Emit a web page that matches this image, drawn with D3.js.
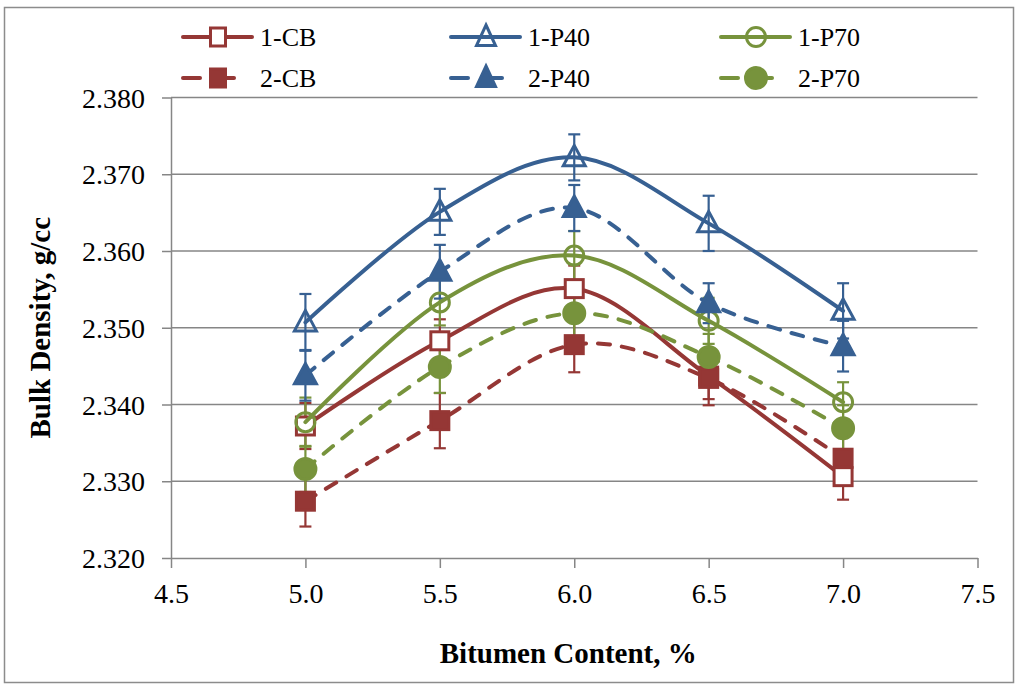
<!DOCTYPE html>
<html>
<head>
<meta charset="utf-8">
<script src="https://cdn.jsdelivr.net/npm/d3@7"></script>
<style>
  body { margin: 0; background: #fff; }
  text { font-family: "Liberation Serif", "Times New Roman", serif; fill: #000; }
</style>
</head>
<body>
<div id="chart"></div>
<script>
// bitumen content vs bulk density, 6 series with error bars
var bitumen = [5.0, 5.5, 6.0, 6.5, 7.0];
var xTicks = [4.5, 5.0, 5.5, 6.0, 6.5, 7.0, 7.5];
var yTicks = [2.320, 2.330, 2.340, 2.350, 2.360, 2.370, 2.380];

var cb1 = [2.3372, 2.3483, 2.3551, 2.3437, 2.3306];
var cb2 = [2.3274, 2.3379, 2.3478, 2.3434, 2.3330];
var p40_1 = [2.3507, 2.3651, 2.3722, 2.3636, 2.3522];
var p40_2 = [2.3438, 2.3573, 2.3656, 2.3532, 2.3476];
var p70_1 = [2.3377, 2.3533, 2.3594, 2.3509, 2.3403];
var p70_2 = [2.3316, 2.3449, 2.3519, 2.3462, 2.3369];

// error bar half widths
var cb1Err = [0.0030, 0.0028, 0.0030, 0.0030, 0.0030];
var cb2Err = [0.0033, 0.0036, 0.0036, 0.0035, 0.0030];
var p40_1Err = [0.0037, 0.0030, 0.0030, 0.0036, 0.0036];
var p40_2Err = [0.0033, 0.0035, 0.0030, 0.0026, 0.0033];
var p70_1Err = [0.0032, 0.0030, 0.0032, 0.0030, 0.0026];
var p70_2Err = [0.0030, 0.0034, 0.0032, 0.0030, 0.0030];

var red = "#953735", blue = "#376092", green = "#77933c";

var series = [
  {name: "1-CB", vals: cb1, err: cb1Err, color: red, dash: false, marker: "square", fill: false},
  {name: "1-P40", vals: p40_1, err: p40_1Err, color: blue, dash: false, marker: "triangle", fill: false},
  {name: "1-P70", vals: p70_1, err: p70_1Err, color: green, dash: false, marker: "circle", fill: false},
  {name: "2-CB", vals: cb2, err: cb2Err, color: red, dash: true, marker: "square", fill: true},
  {name: "2-P40", vals: p40_2, err: p40_2Err, color: blue, dash: true, marker: "triangle", fill: true},
  {name: "2-P70", vals: p70_2, err: p70_2Err, color: green, dash: true, marker: "circle", fill: true}
];

var svgWidth = 1017, svgHeight = 684;
var margin = {top: 97.5, right: 40, bottom: 126, left: 171};
var width = 977.5 - margin.left;
var height = 558 - margin.top;

var svg = d3.select("#chart").append("svg")
  .attr("width", svgWidth)
  .attr("height", svgHeight);

// outer frame
svg.append("rect")
  .attr("x", 4.5).attr("y", 7.5)
  .attr("width", 1009).attr("height", 675)
  .attr("fill", "none").attr("stroke", "#8c8c8c").attr("stroke-width", 1.5);

var g = svg.append("g").attr("transform", `translate(${margin.left}, ${margin.top})`);

var x = d3.scaleLinear().domain([4.5, 7.5]).range([0, width]);
var y = d3.scaleLinear().domain([2.320, 2.380]).range([height, 0]);

// gridlines
g.selectAll(".grid").data(yTicks.slice(1)).enter().append("line")
  .attr("x1", 0).attr("x2", width)
  .attr("y1", d => y(d)).attr("y2", d => y(d))
  .attr("stroke", "#868686").attr("stroke-width", 1.5);

var xAxis = g.append("g").attr("transform", `translate(0, ${height})`)
  .call(d3.axisBottom(x).tickValues(xTicks).tickFormat(d3.format(".1f")).tickSize(10).tickSizeOuter(0));
var yAxis = g.append("g")
  .call(d3.axisLeft(y).tickValues(yTicks).tickFormat(d3.format(".3f")).tickSize(9).tickSizeOuter(0));

[xAxis, yAxis].forEach(function(a) {
  a.select(".domain").attr("stroke", "#868686").attr("stroke-width", 1.5);
  a.selectAll(".tick line").attr("stroke", "#868686").attr("stroke-width", 1.5);
  a.selectAll("text").attr("font-family", "Liberation Serif").attr("font-size", 28).attr("fill", "#000");
});
xAxis.selectAll("text").attr("dy", 0).attr("y", 45);
yAxis.selectAll("text").attr("x", -26).attr("dy", "0.34em");

var line = d3.line()
  .x((d, i) => x(bitumen[i]))
  .y(d => y(d))
  .curve(d3.curveCatmullRom.alpha(0));

function drawMarker(sel, s, cx, cy, w) {
  var fill = s.fill ? s.color : "#fff";
  var hw = w || 9;
  if (s.marker === "square") {
    sel.append("rect").attr("x", cx - hw).attr("y", cy - 9).attr("width", hw * 2).attr("height", 18)
      .attr("fill", fill).attr("stroke", s.color).attr("stroke-width", 3);
  } else if (s.marker === "circle") {
    sel.append("circle").attr("cx", cx).attr("cy", cy).attr("r", s.fill ? 10.5 : 9.5)
      .attr("fill", s.fill ? fill : "none").attr("stroke", s.color).attr("stroke-width", 3);
  } else {
    sel.append("path")
      .attr("d", `M${cx},${cy - 12}L${cx + hw + 2},${cy + 8.5}L${cx - hw - 2},${cy + 8.5}Z`)
      .attr("fill", s.fill ? fill : "none").attr("stroke", s.color).attr("stroke-width", 3)
      .attr("stroke-linejoin", "miter");
  }
}

// error bars
series.forEach(function(s) {
  var eb = g.append("g");
  s.vals.forEach(function(v, i) {
    var cx = x(bitumen[i]);
    var top = y(v + s.err[i]), bot = y(v - s.err[i]);
    eb.append("line").attr("x1", cx).attr("x2", cx).attr("y1", top).attr("y2", bot)
      .attr("stroke", s.color).attr("stroke-width", 2.2);
    [top, bot].forEach(function(cy) {
      eb.append("line").attr("x1", cx - 6).attr("x2", cx + 6).attr("y1", cy).attr("y2", cy)
        .attr("stroke", s.color).attr("stroke-width", 2.2);
    });
  });
});

// lines and markers
series.forEach(function(s) {
  g.append("path").datum(s.vals)
    .attr("d", line)
    .attr("fill", "none")
    .attr("stroke", s.color)
    .attr("stroke-width", 4)
    .attr("stroke-linecap", "round")
    .attr("stroke-dasharray", s.dash ? "12,12" : null);
  var mg = g.append("g");
  s.vals.forEach(function(v, i) {
    drawMarker(mg, s, x(bitumen[i]), y(v));
  });
});

// legend
var legX = [183, 451, 721];
var legY = [37, 78];
series.forEach(function(s, i) {
  var col = i % 3, row = Math.floor(i / 3);
  var lg = svg.append("g");
  var x0 = legX[col], cy = legY[row];
  if (s.dash) {
    lg.append("line").attr("x1", x0).attr("x2", x0 + 17).attr("y1", cy).attr("y2", cy)
      .attr("stroke", s.color).attr("stroke-width", 4).attr("stroke-linecap", "round");
    lg.append("line").attr("x1", x0 + 35).attr("x2", x0 + 51).attr("y1", cy).attr("y2", cy)
      .attr("stroke", s.color).attr("stroke-width", 4).attr("stroke-linecap", "round");
  } else {
    lg.append("line").attr("x1", x0).attr("x2", x0 + 69).attr("y1", cy).attr("y2", cy)
      .attr("stroke", s.color).attr("stroke-width", 4).attr("stroke-linecap", "round");
  }
  drawMarker(lg, s, x0 + 35, cy, 7.5);
  lg.append("text").attr("x", x0 + 77).attr("y", cy + 9)
    .attr("font-size", 26).text(s.name);
});

// axis titles
svg.append("text")
  .attr("x", margin.left + width / 2 - 6).attr("y", 663)
  .attr("text-anchor", "middle").attr("font-weight", "bold").attr("font-size", 29)
  .text("Bitumen Content, %");

svg.append("text")
  .attr("transform", `translate(50, ${margin.top + height / 2}) rotate(-90)`)
  .attr("text-anchor", "middle").attr("font-weight", "bold").attr("font-size", 29)
  .text("Bulk Density, g/cc");
</script>
</body>
</html>
